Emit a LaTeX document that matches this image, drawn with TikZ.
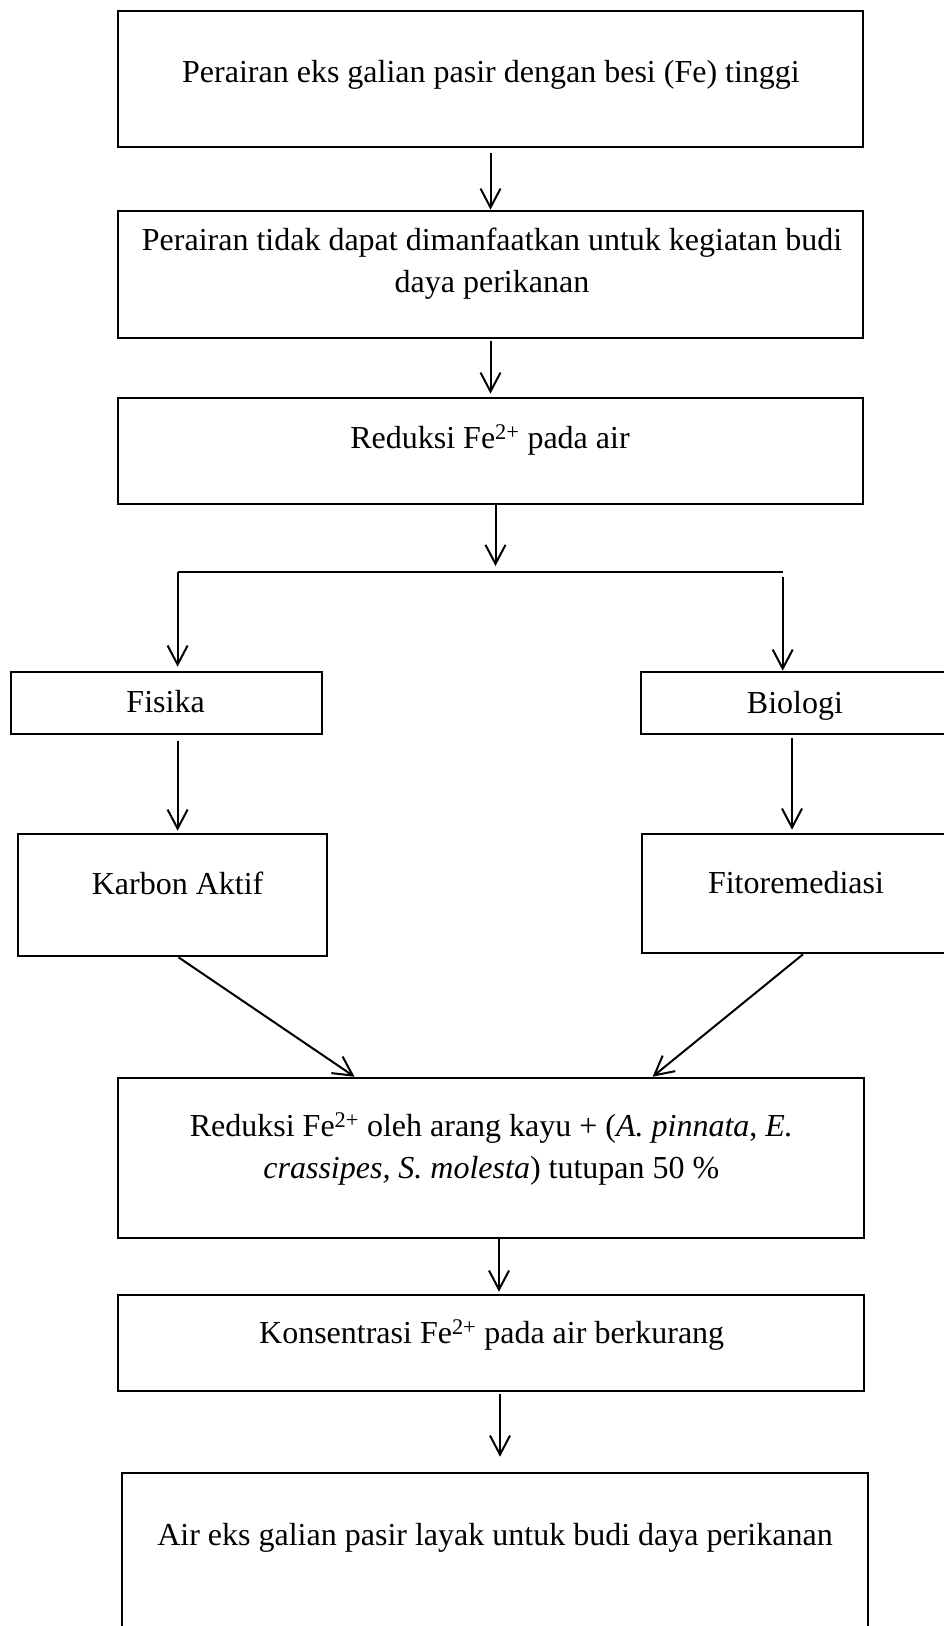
\documentclass[tikz,border=0pt]{standalone}
\usepackage{fontspec}
\setmainfont{Liberation Serif}
\usetikzlibrary{arrows.meta}

\begin{document}
\begin{tikzpicture}[x=1pt, y=-1pt, line width=2pt,
		box/.style={draw=black, line width=2.6pt, minimum width=745pt},
		txt/.style={font=\fontsize{32}{42}\selectfont, align=center, inner sep=0pt},
		>={Straight Barb[length=19pt,width=20pt]},
]
\useasboundingbox (0,0) rectangle (944,1626);

% boxes
\node[box, minimum height=136pt] (b1) at (490.5,79) {};
\node[box, minimum height=127pt] (b2) at (490.5,274.5) {};
\node[box, minimum height=106pt] (b3) at (490.5,451) {};

\node[box, minimum width=311pt, minimum height=62pt] (fis) at (166.5,703) {};
\node[box, minimum width=309pt, minimum height=62pt] (bio) at (795.5,703) {};
\node[box, minimum width=309pt, minimum height=122pt] (kar) at (172.5,895) {};
\node[box, minimum width=308pt, minimum height=119pt] (fit) at (796,893.5) {};

\node[box, minimum width=746pt, minimum height=160pt] (big) at (491,1158) {};
\node[box, minimum width=746pt, minimum height=96pt] (kon) at (491,1343) {};
\node[box, minimum width=746pt, minimum height=177pt] (last) at (495,1561.5) {};

% texts
\node[txt] (t1) at (491,75) {Perairan eks galian pasir dengan besi (Fe) tinggi};
\node[txt] (t2) at (492,264) {Perairan tidak dapat dimanfaatkan untuk kegiatan budi\\daya perikanan};
\node[txt] (t3) at (490,440) {Reduksi Fe\textsuperscript{2+} pada air};
\node[txt] (tfis) at (165.6,701.7) {Fisika};
\node[txt] (tbio) at (795,705.5) {Biologi};
\node[txt] (tkar) at (177.6,883) {Karbon Aktif};
\node[txt] (tfit) at (796,883) {Fitoremediasi};
\node[txt] (tbig) at (491.4,1149) {Reduksi Fe\textsuperscript{2+} oleh arang kayu + (\textit{A. pinnata}, \textit{E.}\\\textit{crassipes, S. molesta}) tutupan 50 \%};
\node[txt] (tkon) at (491.7,1335) {Konsentrasi Fe\textsuperscript{2+} pada air berkurang};
\node[txt] (tlast) at (495,1538) {Air eks galian pasir layak untuk budi daya perikanan};

% branch points
\coordinate (split) at (495.5,566);
\coordinate (jl) at (177.6,571.7);
\coordinate (jr) at (782.7,571.7);
\coordinate (jr2) at (782.7,576.7);

\draw [->, shorten <=5pt] (b1) -- (b2);
\draw [->, shorten <=2pt, shorten >=3pt] (b2) -- (b3);
\draw [->] ([xshift=5pt]b3.south) -- (split);
\draw (jl) -- (jr);
\draw [->, shorten >=4pt] (jl) -- (jl |- fis.north);
\draw [->] (jr2) -- (jr2 |- bio.north);
\draw [->, shorten <=6pt, shorten >=2pt] (fis.south -| jl) -- (kar.north -| jl);
\draw [->, shorten <=3pt, shorten >=3pt] ([xshift=-3.5pt]bio.south) -- ([xshift=-4pt]fit.north);
\draw [->] ([xshift=6pt]kar.south) -- ([xshift=-136.5pt]big.north);
\draw [->] ([xshift=7pt]fit.south) -- ([xshift=161.6pt]big.north);
\draw [->, shorten >=2pt] ([xshift=8pt]big.south) -- ([xshift=8pt]kon.north);
\draw [->, shorten <=2pt, shorten >=15pt] ([xshift=9pt]kon.south) -- ([xshift=5pt]last.north);

\end{tikzpicture}
\end{document}
